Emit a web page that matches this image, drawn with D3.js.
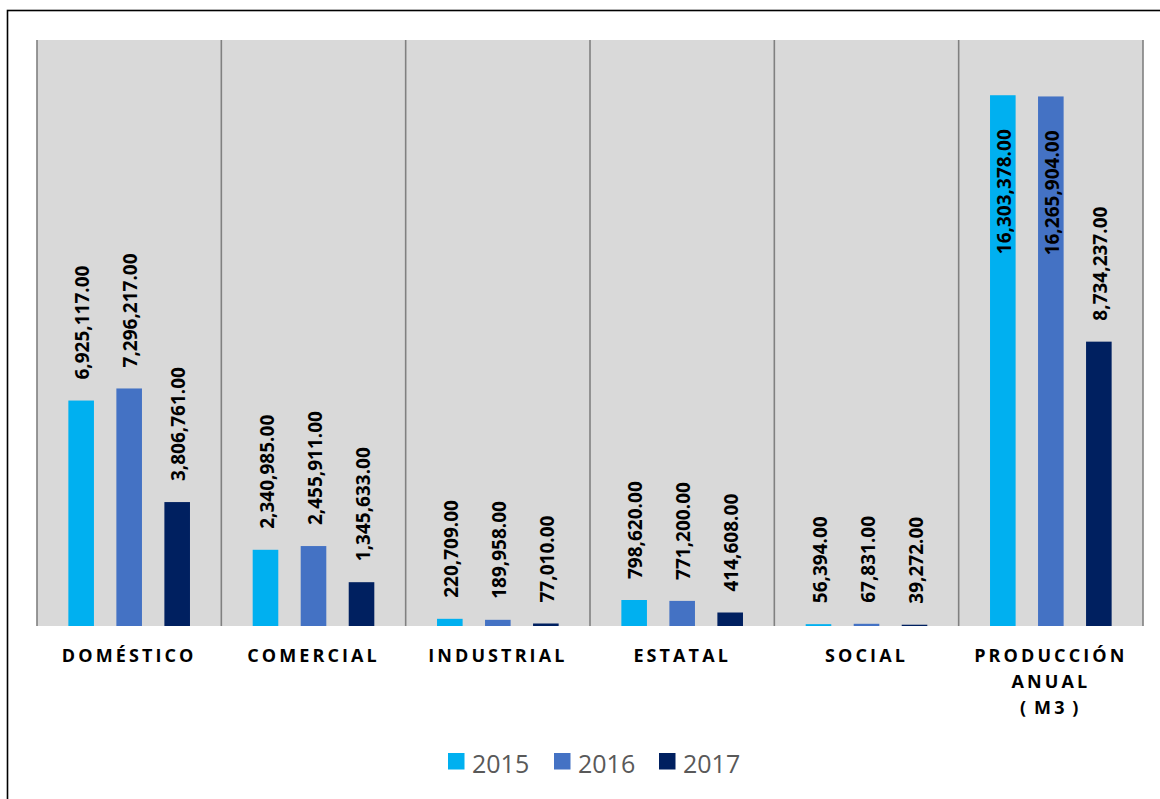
<!DOCTYPE html>
<html><head><meta charset="utf-8">
<script src="https://cdn.jsdelivr.net/npm/d3@7"></script>
<style>body{margin:0;background:#fff;} svg{display:block;}</style>
</head><body>
<svg id="c" width="1160" height="799"></svg>
<script>
const categories = [["DOMÉSTICO"],["COMERCIAL"],["INDUSTRIAL"],["ESTATAL"],["SOCIAL"],["PRODUCCIÓN","ANUAL","( M3 )"]];
const catKeys = categories.map(c => c.join(" "));
const years = ["2015","2016","2017"];
const values2015 = [6925117, 2340985, 220709, 798620, 56394, 16303378];
const values2016 = [7296217, 2455911, 189958, 771200, 67831, 16265904];
const values2017 = [3806761, 1345633, 77010, 414608, 39272, 8734237];
const colors = ["#00B0F0","#4472C4","#002060"];
const yMax = 18000000;

(function(){
const series = [values2015, values2016, values2017];
const svg = d3.select("#c");
const pLeft = 37, pRight = 1143, pTop = 40, pBottom = 626;

// outer frame
svg.append("rect").attr("x",7.5).attr("y",10.5).attr("width",1170).attr("height",820)
  .attr("fill","none").attr("stroke","#000").attr("stroke-width",1.6);

const x0 = d3.scaleBand().domain(catKeys).range([pLeft,pRight]).padding(0);
const x1 = d3.scaleBand().domain(years).range([0,x0.bandwidth()]).paddingInner(0.467).paddingOuter(0.653);
const y = d3.scaleLinear().domain([0,yMax]).range([pBottom,pTop]);

svg.append("rect").attr("x",pLeft).attr("y",pTop).attr("width",pRight-pLeft).attr("height",pBottom-pTop).attr("fill","#D9D9D9");

// vertical separators
const seps = catKeys.map(k => x0(k)).concat([pRight]);
svg.selectAll("line.sep").data(seps).enter().append("line")
  .attr("x1",d=>d).attr("x2",d=>d).attr("y1",pTop).attr("y2",pBottom)
  .attr("stroke","#808080").attr("stroke-width",1.6);

const fmt = d3.format(",.2f");
const bars = [];
catKeys.forEach((k,i)=>{
  years.forEach((yr,j)=>{
    bars.push({k, yr, j, v: series[j][i]});
  });
});

svg.selectAll("rect.bar").data(bars).enter().append("rect")
  .attr("x",d=>x0(d.k)+x1(d.yr)).attr("width",x1.bandwidth())
  .attr("y",d=>y(d.v)).attr("height",d=>pBottom-y(d.v)).attr("fill",d=>colors[d.j]);

const labels = svg.selectAll("text.val").data(bars).enter().append("text")
  .attr("font-family","'Open Sans', sans-serif").attr("font-weight","bold").attr("font-size",19)
  .attr("fill","#000").text(d=>fmt(d.v));
labels.each(function(d){
  const len = this.getComputedTextLength();
  const cx = x0(d.k)+x1(d.yr)+x1.bandwidth()/2 + 1.5;
  const by = y(d.v);
  let ty, anchor;
  if (by - 21 - len < pTop + 4) { ty = by + 34; anchor = "end"; }
  else { ty = by - 21; anchor = "start"; }
  d3.select(this).attr("text-anchor",anchor).attr("dy","0.35em")
    .attr("transform",`translate(${cx},${ty}) rotate(-90)`);
});

// category labels
categories.forEach((lines,i)=>{
  const cx = x0(catKeys[i]) + x0.bandwidth()/2;
  const t = svg.append("text").attr("text-anchor","middle")
    .attr("font-family","'Open Sans', sans-serif").attr("font-weight","bold").attr("font-size",18)
    .attr("letter-spacing","3.1px").attr("word-spacing","-3px").attr("fill","#000");
  lines.forEach((ln,li)=>{
    t.append("tspan").attr("x",cx).attr("y",662 + li*26).text(ln);
  });
});

// legend
const legX = [448, 554, 659];
years.forEach((yr,j)=>{
  svg.append("rect").attr("x",legX[j]).attr("y",753).attr("width",16.5).attr("height",16.5).attr("fill",colors[j]);
  svg.append("text").attr("x",legX[j]+24).attr("y",772.5)
    .attr("font-family","'Open Sans', sans-serif").attr("font-size",25).attr("fill","#595959").text(yr);
});
})();
</script>
</body></html>
